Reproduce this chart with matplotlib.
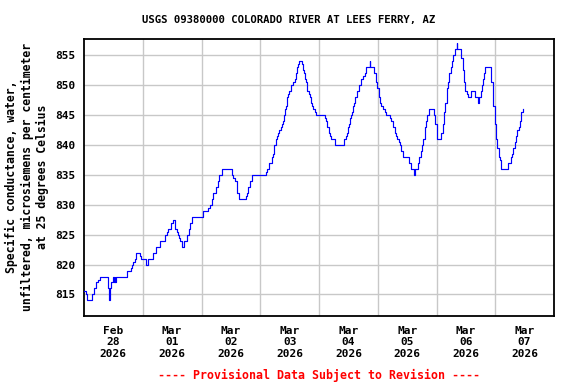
import matplotlib.pyplot as plt

# hours after Feb 28 2026 00:00, value holds until the next reading
hours = [0, 0.7, 1.4, 3.4, 4.1, 5.0, 5.7, 6.4, 9.9, 10.2, 10.5, 11.2, 11.7, 12.3, 12.5,
         12.8, 13.1, 17.7, 19.1, 19.5, 20.0, 20.7, 21.1, 23.0, 23.4,
         25.5, 26.3, 28.3, 29.6, 31.2, 33.1, 34.0, 34.4, 35.7, 36.2, 37.0, 37.2, 37.9,
         38.3, 38.8, 39.2, 40.0, 41.0, 42.2, 42.9, 43.4, 44.3,
         48.7, 50.8, 51.5, 52.1, 52.8, 53.8, 54.6, 55.3, 56.5, 60.5, 61.0, 61.7, 62.4,
         62.6, 63.4, 66.1, 66.5, 67.1, 67.8, 68.8,
         74.2, 74.6, 75.7, 76.7, 77.1, 77.7, 78.4, 79.0, 79.4, 79.8, 80.3, 80.7, 81.2,
         81.7, 82.1, 82.5, 83.1, 83.5, 83.9, 84.6, 85.5, 86.0, 86.5, 86.9, 87.3, 87.7,
         89.0, 89.3, 89.9, 90.1, 90.7, 91.2, 91.8, 92.3, 92.9, 93.3, 93.7, 94.2, 94.8,
         98.3, 98.9, 99.4, 99.9, 100.5, 101.0, 102.4, 106.1, 107.0, 107.6, 108.0, 108.4,
         108.8, 109.2, 109.6, 110.0, 110.4, 110.8, 111.4, 112.2, 113.3, 114.1, 114.7,
         115.3, 116.7, 117.0, 118.5, 119.3, 119.8,
         120.4, 120.9, 121.4, 122.0, 122.8, 123.4, 125.0, 125.5, 126.1, 126.9, 127.4,
         128.0, 128.5, 129.1, 129.6, 130.5, 132.6, 133.4, 134.8, 135.2, 136.4, 137.0,
         137.5, 138.1, 138.6, 139.2, 139.7, 140.3, 140.8, 143.0, 143.5, 144.0,
         144.3, 145.9, 146.5, 147.0, 147.6, 148.1, 148.7, 149.2, 149.8, 150.3, 150.9,
         151.4, 152.2, 152.5, 154.1, 154.7, 155.2, 155.8, 156.3, 156.9, 157.9, 159.6,
         160.9, 161.1, 161.5, 162.0, 162.5, 163.1, 163.6, 163.9, 166.1, 166.4, 166.9,
         167.2, 167.7,
         168.3, 168.8, 169.4, 169.9, 170.5, 173.2, 174.3, 174.8, 175.4, 175.9, 176.5,
         177.0, 177.6, 178.1, 178.7, 179.2]

conductance = [815.5, 815, 814, 815, 816, 817, 817.5, 818, 816, 814, 816, 817, 818, 817, 818,
               817, 818, 819, 819.5, 820, 820.5, 821, 822, 821.5, 821,
               820, 821, 822, 823, 824, 825, 825.5, 826, 827, 827.5, 827, 826, 825.5,
               825, 824.5, 824, 823, 824, 825, 826, 827, 828,
               829, 829.5, 830, 831, 832, 833, 834, 835, 836, 835, 834.5, 834, 833,
               832, 831, 831.5, 832, 833, 834, 835,
               835.5, 836, 837, 838, 838.5, 840, 841, 841.5, 842, 842.5, 843, 843.5, 844,
               845, 846, 846.5, 848, 848.5, 849, 850, 850.5, 851, 852, 853, 853.5, 854,
               853.5, 852.5, 852, 851, 850.5, 849, 848.5, 848, 847, 846.5, 846, 845.5, 845,
               844.5, 844, 843, 842, 841.5, 841, 840, 841, 841.5, 842, 843, 843.5,
               844.5, 845, 845.5, 846.5, 847, 848, 849, 850, 851, 851.5, 852,
               853, 854, 853, 852, 850.5, 849.5,
               848, 847, 846.5, 846, 845.5, 845, 844.5, 844, 843, 842, 841.5,
               841, 840.5, 840, 839, 838, 837, 836, 835, 836, 837, 838,
               839, 840, 841, 843, 844, 845, 846, 845, 843.5, 842.5,
               841, 842, 843.5, 845.5, 847, 849.5, 850.5, 852, 853, 854, 855,
               856, 857, 856, 854.5, 852.5, 850.5, 849, 848.5, 848, 849, 848,
               847.5, 847, 848, 849, 850, 851, 852, 853, 852, 850.5, 849,
               846.5, 843.5,
               841, 839.5, 838, 837.5, 836, 837, 838, 838.5, 839.5, 840.5, 841.5,
               842.5, 843, 844, 845.5, 846]

day_labels = ["Feb\n28\n2026", "Mar\n01\n2026", "Mar\n02\n2026", "Mar\n03\n2026",
              "Mar\n04\n2026", "Mar\n05\n2026", "Mar\n06\n2026", "Mar\n07\n2026"]
y_ticks = [815, 820, 825, 830, 835, 840, 845, 850, 855]

mono = "DejaVu Sans Mono"

fig = plt.figure(figsize=(5.76, 3.84), dpi=100)
ax = fig.add_axes([84/576, 1-316/384, 470/576, 277/384])

ax.plot(hours, conductance, color="#0000ff", lw=0.85, drawstyle="steps-post", zorder=3)

ax.set_xlim(0, 192)
ax.set_ylim(811.4, 857.7)
ax.set_xticks([12 + 24*i for i in range(8)])
ax.set_xticklabels(day_labels)
ax.set_xticks([24*i for i in range(1, 8)], minor=True)
ax.set_yticks(y_ticks)
ax.grid(which="minor", axis="x", color="#c8c8c8", lw=1)
ax.grid(which="major", axis="y", color="#c8c8c8", lw=1)
ax.tick_params(which="both", length=0)
ax.tick_params(axis="y", pad=6)
ax.tick_params(axis="x", pad=7)
for lab in ax.get_xticklabels() + ax.get_yticklabels():
    lab.set_family(mono)
    lab.set_fontweight("bold")
    lab.set_fontsize(8)
for s in ax.spines.values():
    s.set_linewidth(1.3)

fig.text(289/576, 1-20/384, "USGS 09380000 COLORADO RIVER AT LEES FERRY, AZ",
         ha="center", va="center", family=mono, fontsize=7.7, fontweight="bold")
fig.text(27/576, 1-177/384,
         "Specific conductance, water,\nunfiltered, microsiemens per centimeter\nat 25 degrees Celsius",
         ha="center", va="center", rotation=90, family=mono, fontsize=8.3,
         fontweight="bold", linespacing=1.25)
fig.text(319/576, 1-375/384, "---- Provisional Data Subject to Revision ----",
         ha="center", va="center", color="red", family=mono, fontsize=8.4,
         fontweight="bold")

fig.savefig("out.png", dpi=100)
